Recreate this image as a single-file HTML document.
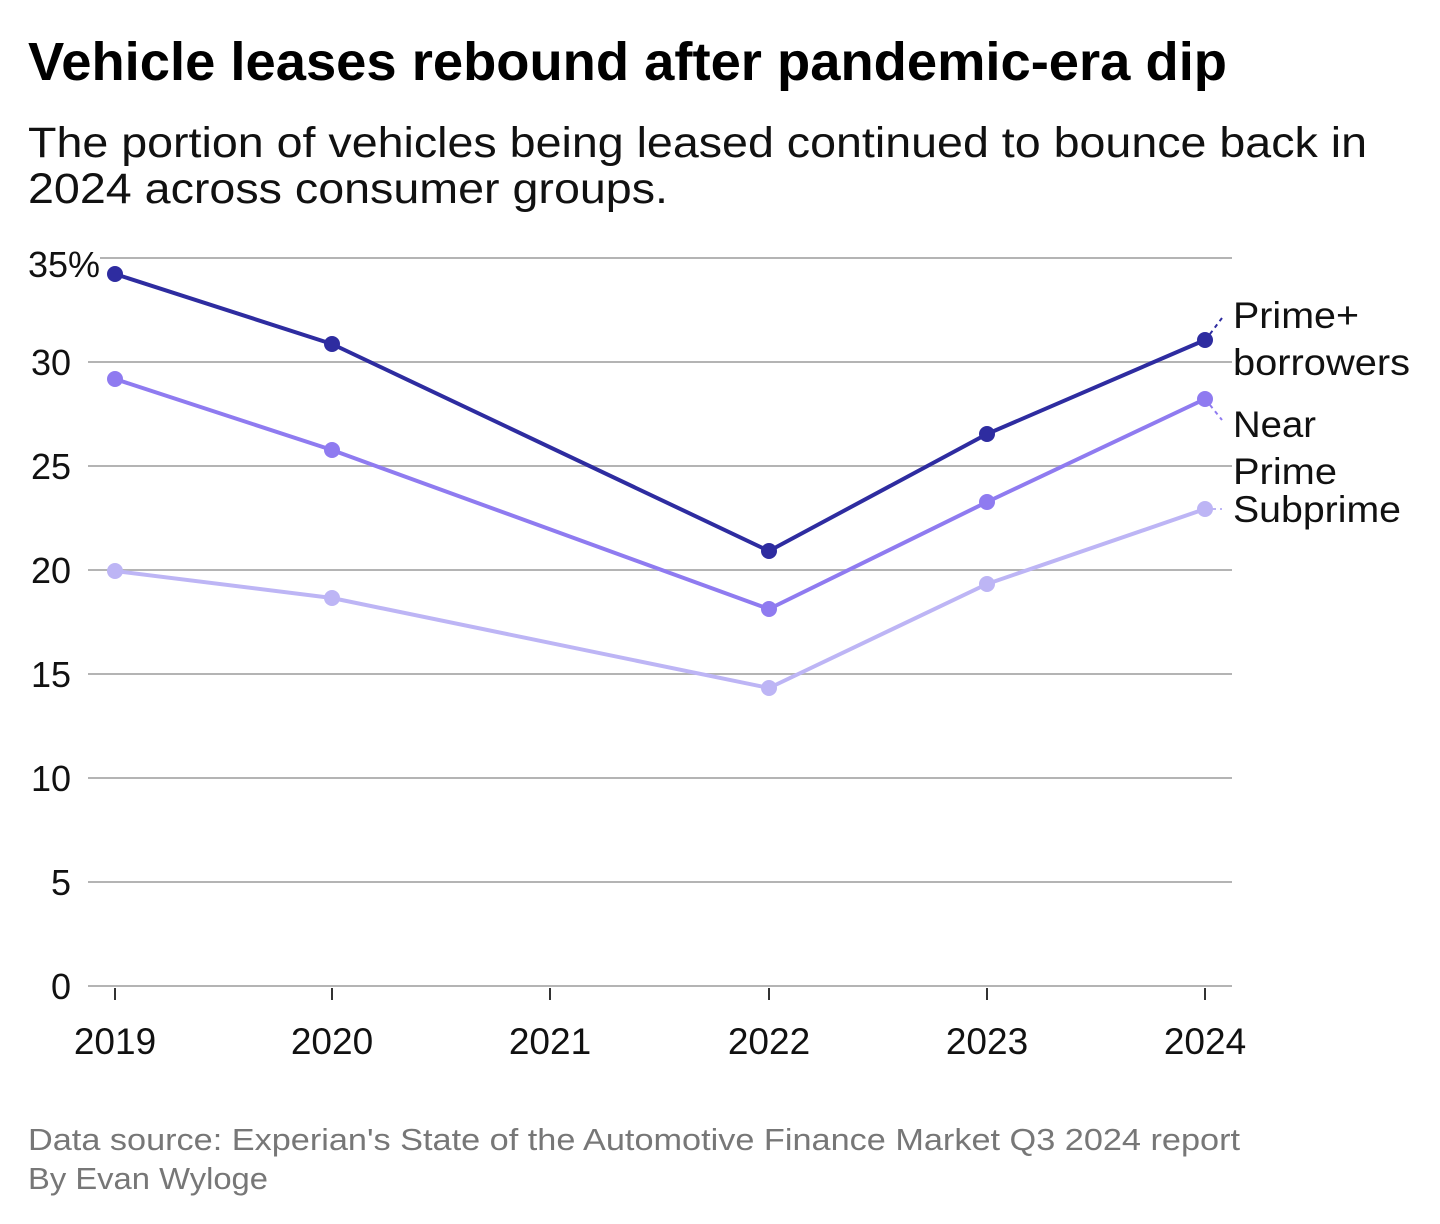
<!DOCTYPE html>
<html><head><meta charset="utf-8"><style>
html,body{margin:0;padding:0;background:#fff;}
svg{display:block;font-family:"Liberation Sans",sans-serif;}
</style></head><body>
<svg width="1440" height="1224" viewBox="0 0 1440 1224">
<text x="28" y="80" font-size="54" font-weight="bold" fill="#000" textLength="1199" lengthAdjust="spacingAndGlyphs">Vehicle leases rebound after pandemic-era dip</text>
<text x="28" y="157" font-size="43" fill="#111" textLength="1339" lengthAdjust="spacingAndGlyphs">The portion of vehicles being leased continued to bounce back in</text>
<text x="28" y="203" font-size="43" fill="#111" textLength="640" lengthAdjust="spacingAndGlyphs">2024 across consumer groups.</text>
<g stroke="#b4b4b4" stroke-width="2">
<line x1="100" y1="258" x2="1232" y2="258"/>
<line x1="88" y1="362" x2="1232" y2="362"/>
<line x1="88" y1="466" x2="1232" y2="466"/>
<line x1="88" y1="570" x2="1232" y2="570"/>
<line x1="88" y1="674" x2="1232" y2="674"/>
<line x1="88" y1="778" x2="1232" y2="778"/>
<line x1="88" y1="882" x2="1232" y2="882"/>
<line x1="88" y1="986" x2="1232" y2="986"/>
</g>
<g stroke="#333" stroke-width="2">
<line x1="115" y1="988" x2="115" y2="1000"/><line x1="332" y1="988" x2="332" y2="1000"/>
<line x1="550" y1="988" x2="550" y2="1000"/><line x1="769" y1="988" x2="769" y2="1000"/>
<line x1="987" y1="988" x2="987" y2="1000"/><line x1="1205" y1="988" x2="1205" y2="1000"/>
</g>
<g font-size="36" fill="#111" text-anchor="end">
<text x="100" y="277">35%</text><text x="71" y="375">30</text><text x="71" y="479">25</text>
<text x="71" y="583">20</text><text x="71" y="687">15</text><text x="71" y="791">10</text>
<text x="71" y="895">5</text><text x="71" y="999">0</text>
</g>
<g font-size="37" fill="#111" text-anchor="middle">
<text x="115" y="1054">2019</text><text x="332" y="1054">2020</text><text x="550" y="1054">2021</text>
<text x="769" y="1054">2022</text><text x="987" y="1054">2023</text><text x="1205" y="1054">2024</text>
</g>
<g fill="none" stroke-width="4" stroke-linejoin="round">
<polyline stroke="#bdb5f5" points="115,571 332,598 769,688 987,584 1205,509"/>
<polyline stroke="#8f7bf0" points="115,379 332,450 769,609 987,502 1205,399"/>
<polyline stroke="#2e2ca0" points="115,274 332,344 769,551 987,434 1205,340"/>
</g>
<g fill="#bdb5f5"><circle cx="115" cy="571" r="8"/><circle cx="332" cy="598" r="8"/><circle cx="769" cy="688" r="8"/><circle cx="987" cy="584" r="8"/><circle cx="1205" cy="509" r="8"/></g>
<g fill="#8f7bf0"><circle cx="115" cy="379" r="8"/><circle cx="332" cy="450" r="8"/><circle cx="769" cy="609" r="8"/><circle cx="987" cy="502" r="8"/><circle cx="1205" cy="399" r="8"/></g>
<g fill="#2e2ca0"><circle cx="115" cy="274" r="8"/><circle cx="332" cy="344" r="8"/><circle cx="769" cy="551" r="8"/><circle cx="987" cy="434" r="8"/><circle cx="1205" cy="340" r="8"/></g>
<g stroke-width="2" stroke-dasharray="4,4">
<line x1="1210" y1="334" x2="1222" y2="318" stroke="#2e2ca0"/>
<line x1="1210" y1="405" x2="1222" y2="420" stroke="#8f7bf0"/>
<line x1="1212" y1="509" x2="1222" y2="509" stroke="#bdb5f5"/>
</g>
<g font-size="37" fill="#111">
<text x="1233" y="328" textLength="126" lengthAdjust="spacingAndGlyphs">Prime+</text><text x="1233" y="375" textLength="177" lengthAdjust="spacingAndGlyphs">borrowers</text>
<text x="1233" y="437" textLength="83" lengthAdjust="spacingAndGlyphs">Near</text><text x="1233" y="484" textLength="104" lengthAdjust="spacingAndGlyphs">Prime</text>
<text x="1233" y="522" textLength="168" lengthAdjust="spacingAndGlyphs">Subprime</text>
</g>
<g font-size="31" fill="#777">
<text x="28" y="1150" textLength="1212" lengthAdjust="spacingAndGlyphs">Data source: Experian's State of the Automotive Finance Market Q3 2024 report</text>
<text x="28" y="1189" textLength="240" lengthAdjust="spacingAndGlyphs">By Evan Wyloge</text>
</g>
</svg>
</body></html>
